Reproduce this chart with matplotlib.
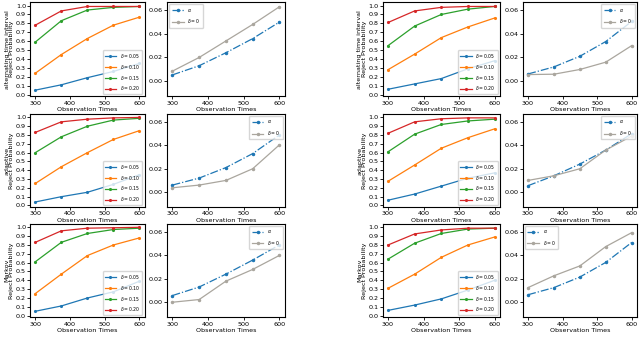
import numpy as np
import matplotlib.pyplot as plt

obs_times = [300, 375, 450, 525, 600]
deltas = ["0.05", "0.10", "0.15", "0.20"]
row_names = ["alternating time interval", "adaptive", "Markov"]

# reject probability, left group (rows: alternating, adaptive, Markov; lines: delta values)
left_reject = [
    [[0.05, 0.11, 0.19, 0.26, 0.35],
     [0.24, 0.45, 0.63, 0.78, 0.87],
     [0.59, 0.83, 0.95, 0.98, 0.99],
     [0.78, 0.94, 0.99, 0.99, 0.99]],
    [[0.04, 0.10, 0.15, 0.24, 0.35],
     [0.25, 0.44, 0.60, 0.75, 0.85],
     [0.60, 0.78, 0.90, 0.97, 0.99],
     [0.83, 0.95, 0.98, 0.995, 1.0]],
    [[0.05, 0.11, 0.20, 0.27, 0.39],
     [0.25, 0.47, 0.68, 0.80, 0.88],
     [0.61, 0.83, 0.93, 0.975, 0.99],
     [0.83, 0.96, 0.99, 0.995, 1.0]],
]
left_alpha = [
    [0.0052, 0.013, 0.024, 0.036, 0.050],
    [0.006, 0.012, 0.021, 0.033, 0.049],
    [0.0057, 0.013, 0.024, 0.036, 0.049],
]
left_zero = [
    [0.0084, 0.020, 0.034, 0.048, 0.063],
    [0.0037, 0.006, 0.010, 0.020, 0.0405],
    [0.0, 0.0023, 0.018, 0.028, 0.040],
]

# right group
right_reject = [
    [[0.06, 0.12, 0.18, 0.29, 0.38],
     [0.28, 0.455, 0.64, 0.76, 0.86],
     [0.55, 0.77, 0.90, 0.96, 0.99],
     [0.81, 0.94, 0.98, 0.99, 0.99]],
    [[0.06, 0.13, 0.22, 0.31, 0.37],
     [0.275, 0.46, 0.65, 0.77, 0.87],
     [0.61, 0.81, 0.92, 0.96, 0.98],
     [0.82, 0.95, 0.985, 0.995, 0.995]],
    [[0.06, 0.12, 0.19, 0.29, 0.40],
     [0.31, 0.47, 0.66, 0.80, 0.89],
     [0.64, 0.82, 0.93, 0.98, 0.99],
     [0.80, 0.925, 0.97, 0.99, 0.99]],
]
right_alpha = [
    [0.006, 0.012, 0.021, 0.0335, 0.0505],
    [0.0055, 0.014, 0.024, 0.036, 0.050],
    [0.0064, 0.0125, 0.0215, 0.034, 0.051],
]
right_zero = [
    [0.0055, 0.0058, 0.0098, 0.016, 0.030],
    [0.010, 0.014, 0.020, 0.036, 0.048],
    [0.0125, 0.0226, 0.031, 0.0475, 0.0594],
]

colors = ['tab:blue', 'tab:orange', 'tab:green', 'tab:red']
fs = 4.6

fig = plt.figure(figsize=(6.4, 3.37), dpi=100)

rows_y = [(0.714, 0.280), (0.385, 0.277), (0.058, 0.278)]
col_x = [(0.047, 0.179), (0.261, 0.184), (0.598, 0.183), (0.817, 0.178)]

groups = [(left_reject, left_alpha, left_zero, 0, ['upper left', 'upper right', 'upper right']),
          (right_reject, right_alpha, right_zero, 2, ['upper right', 'upper right', 'upper left'])]

for reject, alpha, zero, c0, locs in groups:
    for r in range(3):
        b, h = rows_y[r]
        # reject probability
        x0, w = col_x[c0]
        ax = fig.add_axes([x0, b, w, h])
        for k in range(4):
            ax.plot(obs_times, reject[r][k], '.-', color=colors[k], lw=0.9, ms=2.5,
                    label=r"$\delta=$" + deltas[k])
        ax.set_ylim(-0.02, 1.04)
        ax.set_yticks(np.arange(0, 1.01, 0.1))
        ax.set_xticks([300, 400, 500, 600])
        ax.set_ylabel(row_names[r] + "\nReject Probability", fontsize=fs, labelpad=1, linespacing=0.9)
        ax.set_xlabel("Observation Times", fontsize=fs, labelpad=1)
        ax.tick_params(labelsize=fs, length=2, pad=1, width=0.6)
        ax.legend(loc='lower right', fontsize=3.3, handlelength=2.6, borderpad=0.4, labelspacing=0.6)

        # size comparison
        x0, w = col_x[c0 + 1]
        ax = fig.add_axes([x0, b, w, h])
        ax.plot(obs_times, alpha[r], '.-.', color='tab:blue', lw=0.9, ms=3, label=r"$\alpha$")
        ax.plot(obs_times, zero[r], '.-', color='#aaa69e', lw=0.9, ms=3, label=r"$\delta=0$")
        ax.set_ylim(-0.013, 0.067)
        ax.set_yticks([0.0, 0.02, 0.04, 0.06])
        ax.set_xticks([300, 400, 500, 600])
        ax.set_xlabel("Observation Times", fontsize=fs, labelpad=1)
        ax.tick_params(labelsize=fs, length=2, pad=1, width=0.6)
        ax.legend(loc=locs[r], fontsize=3.3, handlelength=2.6, borderpad=0.5, labelspacing=0.8)

plt.savefig("out.png", dpi=100)
